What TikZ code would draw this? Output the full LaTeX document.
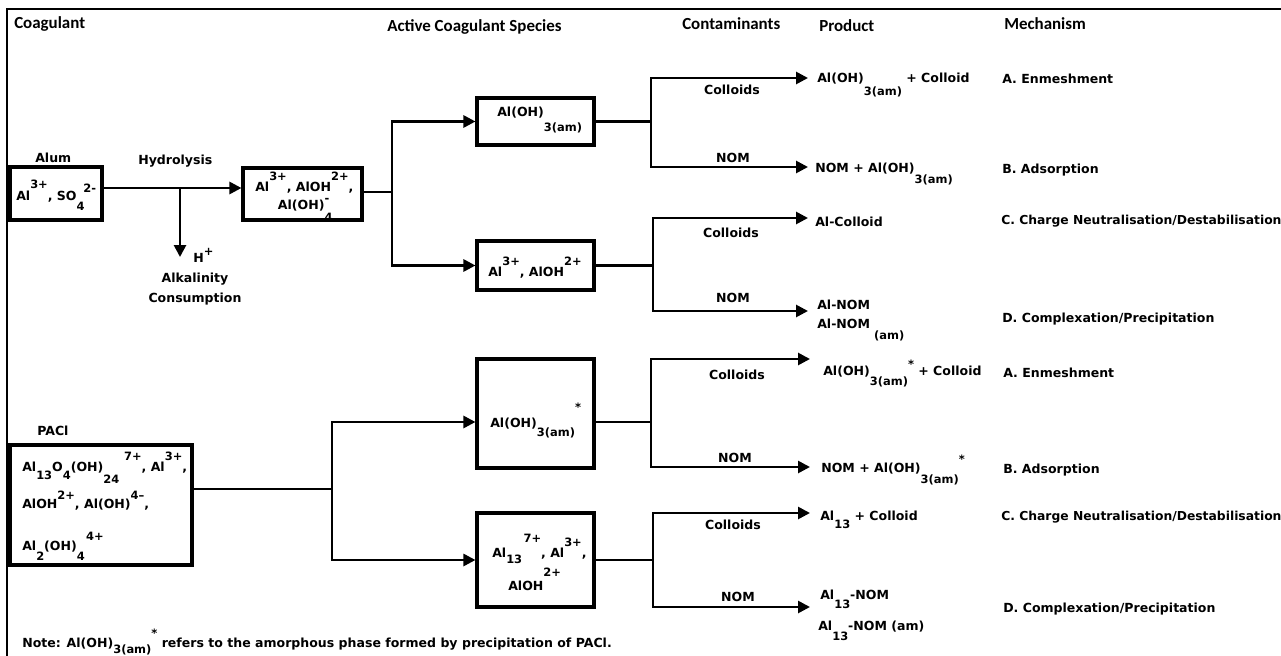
\documentclass[tikz,border=0pt]{standalone}
\usepackage{fontspec}
\setmainfont{DejaVu Sans}
\newfontfamily\hfont{Carlito}
\usetikzlibrary{arrows.meta}
\newcommand\lbf{\fontsize{9.4}{11}\selectfont\bfseries}
\newcommand\scf{\fontsize{8.6}{9}\selectfont\bfseries}
\newcommand\Up[2][6pt]{\raisebox{#1}[0pt][0pt]{\scf #2}}
\newcommand\Dn[2][6pt]{\raisebox{-#1}[0pt][0pt]{\scf #2}}
\newcommand\UD[4]{\ooalign{\Up[#3]{#1}\cr\Dn[#4]{#2}\cr}}
\newcommand\twolines[4]{\begin{tabular}[t]{@{}l@{}}#1\\[#2]\hspace*{#3}#4\end{tabular}}
\tikzset{
  txt/.style={inner sep=0pt, anchor=base west, font=\lbf},
  ctxt/.style={inner sep=0pt, anchor=base, font=\lbf},
  head/.style={inner sep=0pt, anchor=base west, font=\hfont\fontsize{12.7}{14}\selectfont\bfseries},
  bx/.style={draw, line width=2.3pt, inner sep=0pt},
  ln/.style={line width=2pt},
  ar/.style={line width=2pt, -{Triangle[length=9pt,width=9pt]}},
}
\begin{document}
\begin{tikzpicture}[x=0.75pt,y=-0.75pt]
\useasboundingbox (0,0) rectangle (1281,656);
% frame lines
\draw[line width=1.5pt] (6,9) -- (1281,9);
\draw[line width=2.2pt] (7,9) -- (7,344);
\draw[line width=1.5pt] (7,344) -- (7,656);
% headers
\node[head] (hcoag) at (14,29) {Coagulant};
\node[head] (hact) at (387,32) {Active Coagulant Species};
\node[head] (hcont) at (682,30) {Contaminants};
\node[head] (hprod) at (819,32) {Product};
\node[head] (hmech) at (1004,30) {Mechanism};

% ---------------- Alum part ----------------
\node[txt] (alum) at (35,162) {Alum};
\node[bx, minimum width=92*0.75pt, minimum height=53*0.75pt] (alumbox) at (56,193.5) {};
\node[txt] (alumtxt) at (16,200) {Al\Up[9pt]{3+}, SO\Dn[7.5pt]{4}\kern-1pt\Up[6pt]{2-}};
\node[txt] (hydro) at (138,165) {Hydrolysis};
\coordinate (hy) at (180,188);
\coordinate (hdown) at (180,257);
\node[txt] (hplus) at (193,262) {H\Up[5pt]{+}};
\node[ctxt] (alk) at (195,282) {Alkalinity};
\node[ctxt] (cons) at (195,302) {Consumption};

\node[bx, minimum width=119*0.75pt, minimum height=52*0.75pt] (spA) at (302.5,194) {};
\node[txt] (spAt) at (255,191) {\twolines{Al\Up[8pt]{3+}, AlOH\Up[8pt]{2+},}{2.5pt}{17pt}{Al(OH)\UD{-}{4}{4.5pt}{9pt}}};

\draw[ln] (alumbox.east|-hy) -- (hy);
\draw[ar] (hy) -- (spA.west|-hy);
\draw[ar] (hy) -- (hdown);

\node[bx, minimum width=117*0.75pt, minimum height=47*0.75pt] (amA) at (535.5,121.5) {};
\node[txt] (amAt) at (497,117) {Al(OH)\Dn[11pt]{3(am)}};
\node[bx, minimum width=117*0.75pt, minimum height=49*0.75pt] (ionA) at (535.5,265.5) {};
\node[txt] (ionAt) at (488,276) {Al\Up[8pt]{3+}, AlOH\Up[8pt]{2+}};

\coordinate (f1) at (392,192);
\draw[ln] (spA.east|-f1) -- (f1);
\draw[ar] (f1) |- (amA.west);
\draw[ar] (f1) |- (ionA.west);

\coordinate (f2) at (651,121.5);
\coordinate (pA1) at (808,78);
\coordinate (pA2) at (808,167);
\draw[ln] (amA.east) -- (f2);
\draw[ar] (f2) |- (pA1);
\draw[ar] (f2) |- (pA2);
\node[ctxt] (cA1) at (732,95) {Colloids};
\node[ctxt] (nA1) at (733,163) {NOM};

\coordinate (f3) at (653,265.5);
\coordinate (pA3) at (808,218);
\coordinate (pA4) at (808,311);
\draw[ln] (ionA.east) -- (f3);
\draw[ar] (f3) |- (pA3);
\draw[ar] (f3) |- (pA4);
\node[ctxt] (cA2) at (731,238) {Colloids};
\node[ctxt] (nA2) at (733,302) {NOM};

\node[txt] (prA1) at (817,83) {Al(OH)\Dn[9.75pt]{3(am)} + Colloid};
\node[txt] (prA2) at (815,173) {NOM + Al(OH)\Dn[8.25pt]{3(am)}};
\node[txt] (prA3) at (815,226) {Al-Colloid};
\node[txt] (prA4) at (817,309) {\twolines{Al-NOM}{3.25pt}{0pt}{Al-NOM\Dn[8.25pt]{\ (am)}}};

\node[txt] (mA1) at (1002,84) {A. Enmeshment};
\node[txt] (mA2) at (1002,174) {B. Adsorption};
\node[txt, font=\fontsize{9.25}{11}\selectfont\bfseries] (mA3) at (1001,224) {C. Charge Neutralisation/Destabilisation};
\node[txt] (mA4) at (1002,322) {D. Complexation/Precipitation};

% ---------------- PACl part ----------------
\node[txt] (pacl) at (37,435) {PACl};
\node[bx, minimum width=182*0.75pt, minimum height=120*0.75pt] (paclbox) at (101,505) {};
\node[txt] (pt1) at (22,471) {Al\Dn[6pt]{13}O\Dn[6pt]{4}(OH)\Dn[9pt]{24}\kern3.5pt\Up[8.25pt]{7+}, Al\Up[8.25pt]{3+},};
\node[txt] (pt2) at (22,508) {AlOH\Up[6.75pt]{2+}, Al(OH)\Up[6.75pt]{4--},};
\node[txt] (pt3) at (22,550) {Al\Dn[7.5pt]{2}(OH)\Dn[7.5pt]{4}\kern1pt\Up[7pt]{4+}};

\node[bx, minimum width=117*0.75pt, minimum height=109*0.75pt] (amB) at (535.5,413.5) {};
\node[txt] (amBt) at (490,427) {Al(OH)\Dn[7pt]{3(am)}\Up[12pt]{*}};
\node[bx, minimum width=117*0.75pt, minimum height=94*0.75pt] (ionB) at (535.5,560) {};
\node[txt] (ionBt) at (492,557) {\twolines{Al\Dn[4.5pt]{13}\kern1pt\Up[11pt]{7+}, Al\Up[8pt]{3+},}{13.75pt}{12pt}{AlOH\Up[10pt]{2+}}};

\coordinate (f4) at (332,489);
\coordinate (f5) at (651,422);
\draw[ln] (paclbox.east|-f4) -- (f4);
\draw[ar] (f4) |- (amB.west|-f5);
\draw[ar] (f4) |- (ionB.west);

\coordinate (pB1) at (810,359);
\coordinate (pB2) at (810,467);
\draw[ln] (amB.east|-f5) -- (f5);
\draw[ar] (f5) |- (pB1);
\draw[ar] (f5) |- (pB2);
\node[ctxt] (cB1) at (737,379) {Colloids};
\node[ctxt] (nB1) at (735,462) {NOM};

\coordinate (f6) at (653,560);
\coordinate (pB3) at (810,513);
\coordinate (pB4) at (810,607);
\draw[ln] (ionB.east) -- (f6);
\draw[ar] (f6) |- (pB3);
\draw[ar] (f6) |- (pB4);
\node[ctxt] (cB2) at (733,529) {Colloids};
\node[ctxt] (nB2) at (738,601) {NOM};

\node[txt] (prB1) at (823,375) {Al(OH)\Dn[7.5pt]{3(am)}\Up[5pt]{*} + Colloid};
\node[txt] (prB2) at (821,472) {NOM + Al(OH)\Dn[8.25pt]{3(am)}\Up[6.5pt]{*}};
\node[txt] (prB3) at (820,520) {Al\Dn[6pt]{13} + Colloid};
\node[txt] (prB4) at (820,599) {\twolines{Al\Dn[6.75pt]{13}-NOM}{12.25pt}{-1.5pt}{Al\Dn[7.5pt]{13}-NOM (am)}};

\node[txt] (mB1) at (1003,377) {A. Enmeshment};
\node[txt] (mB2) at (1003,473) {B. Adsorption};
\node[txt, font=\fontsize{9.25}{11}\selectfont\bfseries] (mB3) at (1001,520) {C. Charge Neutralisation/Destabilisation};
\node[txt] (mB4) at (1003,612) {D. Complexation/Precipitation};

\node[txt] (note) at (22,647) {Note: Al(OH)\Dn[5pt]{3(am)}\Up[7pt]{*} refers to the amorphous phase formed by precipitation of PACl.};
\end{tikzpicture}
\end{document}
